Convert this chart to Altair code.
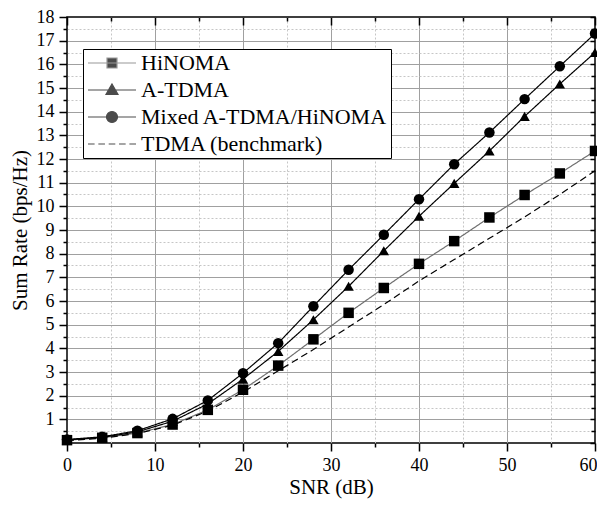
import altair as alt
import pandas as pd

# ---- data ----
snr = [0, 4, 8, 12, 16, 20, 24, 28, 32, 36, 40, 44, 48, 52, 56, 60]
hinoma = [0.12, 0.22, 0.42, 0.78, 1.40, 2.25, 3.27, 4.38, 5.50, 6.55, 7.57, 8.53, 9.53, 10.48, 11.39, 12.34]
atdma = [0.13, 0.24, 0.47, 0.92, 1.65, 2.70, 3.87, 5.21, 6.62, 8.12, 9.58, 10.97, 12.34, 13.80, 15.17, 16.50]
mixed = [0.15, 0.26, 0.52, 1.02, 1.80, 2.95, 4.22, 5.78, 7.32, 8.80, 10.30, 11.78, 13.12, 14.53, 15.92, 17.30]
tdma = [0.10, 0.20, 0.40, 0.75, 1.35, 2.15, 3.05, 3.95, 4.90, 5.85, 6.85, 7.75, 8.65, 9.55, 10.50, 11.50]
series = ["HiNOMA", "A-TDMA", "Mixed A-TDMA/HiNOMA", "TDMA (benchmark)"]

# ---- tick values ----
x_major = [0, 10, 20, 30, 40, 50, 60]
x_inner = [10, 20, 30, 40, 50]
x_minor = [5, 15, 25, 35, 45, 55]
y_labels = [1, 2, 3, 4, 5, 6, 7, 8, 9, 10, 11, 12, 13, 14, 15, 16, 17, 18]
y_major = [0, 1, 2, 3, 4, 5, 6, 7, 8, 9, 10, 11, 12, 13, 14, 15, 16, 17, 18]
y_inner = [1, 2, 3, 4, 5, 6, 7, 8, 9, 10, 11, 12, 13, 14, 15, 16, 17]
y_minor = [0.5, 1.5, 2.5, 3.5, 4.5, 5.5, 6.5, 7.5, 8.5, 9.5, 10.5, 11.5, 12.5,
           13.5, 14.5, 15.5, 16.5, 17.5]

rows = []
for name, vals in zip(series, [hinoma, atdma, mixed, tdma]):
    for s, v in zip(snr, vals):
        rows.append({"snr": s, "rate": v, "series": name})
df = pd.DataFrame(rows)

FONT = "Liberation Serif"
xs = alt.Scale(domain=[0, 60], nice=False, zero=False)
ys = alt.Scale(domain=[0, 18], nice=False, zero=False)


def guide(xaxis, yaxis):
    return alt.Chart(df).mark_point(opacity=0, size=1).encode(
        x=alt.X("snr:Q", scale=xs, axis=xaxis),
        y=alt.Y("rate:Q", scale=ys, axis=yaxis),
    )


def bare(**kw):
    base = dict(labels=False, domain=False, title=None, labelFlush=False)
    base.update(kw)
    return alt.Axis(**base)


minor_grid = guide(
    bare(orient="bottom", values=x_minor, grid=True, gridColor="#c6c6c6", gridDash=[2, 2], ticks=False),
    bare(orient="left", values=y_minor, grid=True, gridColor="#c6c6c6", gridDash=[2, 2], ticks=False),
)
major_grid = guide(
    bare(orient="bottom", values=x_inner, grid=True, gridColor="#a0a0a0", gridWidth=1, ticks=False),
    bare(orient="left", values=y_inner, grid=True, gridColor="#a0a0a0", gridWidth=1, ticks=False),
)
main_axes = guide(
    alt.Axis(orient="bottom", values=x_major, grid=False, domain=False, ticks=True, tickSize=8,
             tickColor="black", tickWidth=1.5, labelFont=FONT, labelFontSize=18, labelColor="black",
             labelPadding=5, labelFlush=False, labelOverlap=False,
             labelAlign={"condition": {"test": "datum.value == 60", "value": "right"}, "value": "center"},
             labelOffset={"condition": {"test": "datum.value == 60", "value": 2}, "value": 0},
             title="SNR (dB)", titleFont=FONT,
             titleFontSize=21, titleFontWeight="normal", titleColor="black", titlePadding=2),
    alt.Axis(orient="left", values=y_labels, grid=False, domain=False, ticks=True, tickSize=8,
             tickColor="black", tickWidth=1.5, labelFont=FONT, labelFontSize=18, labelColor="black",
             labelPadding=5, labelFlush=False, labelOverlap=False, title="Sum Rate (bps/Hz)", titleFont=FONT,
             titleFontSize=21, titleFontWeight="normal", titleColor="black", titlePadding=6),
)
minor_ticks = guide(
    bare(orient="bottom", values=x_minor, ticks=True, tickSize=4, tickColor="black", tickWidth=1.5, grid=False),
    bare(orient="left", values=y_minor, ticks=True, tickSize=4, tickColor="black", tickWidth=1.5, grid=False),
)
tr_major = guide(
    bare(orient="top", values=x_major, ticks=True, tickSize=8, tickColor="black", tickWidth=1.5, grid=False, offset=-8),
    bare(orient="right", values=y_major, ticks=True, tickSize=5, tickColor="black", tickWidth=1.5, grid=False, offset=-5),
)
tr_minor = guide(
    bare(orient="top", values=x_minor, ticks=True, tickSize=4, tickColor="black", tickWidth=1.5, grid=False, offset=-4),
    bare(orient="right", values=y_minor, ticks=True, tickSize=4, tickColor="black", tickWidth=1.5, grid=False, offset=-4),
)

X = alt.X("snr:Q", scale=xs, axis=None)
Y = alt.Y("rate:Q", scale=ys, axis=None)

lines = alt.Chart(df).mark_line(strokeWidth=1.2).encode(
    x=X, y=Y,
    color=alt.Color("series:N", scale=alt.Scale(domain=series, range=["#6f6f6f", "black", "black", "black"]), legend=None),
    strokeDash=alt.StrokeDash("series:N", scale=alt.Scale(domain=series, range=[[1, 0], [1, 0], [1, 0], [7, 4]]), legend=None),
)

points = alt.Chart(df).transform_filter(alt.datum.series != "TDMA (benchmark)").mark_point(
    filled=True, opacity=1, color="black", size=110
).encode(
    x=X, y=Y,
    shape=alt.Shape("series:N", scale=alt.Scale(domain=series[:3], range=["square", "triangle-up", "circle"]), legend=None),
)

legend_paths = [
    "M-0.9,0H3.9M1,-0.5H2V0.5H1Z",
    "M-0.9,0H3.9M1.5,-0.6L2.1,0.45H0.9Z",
    "M-0.9,0H3.9M0.95,0A0.55,0.55 0 1,0 2.05,0A0.55,0.55 0 1,0 0.95,0Z",
    "M-0.9,0H-0.24M0.135,0H0.795M1.17,0H1.83M2.205,0H2.865M3.24,0H3.9",
]
leg = alt.Legend(title=None, orient="none", legendX=16, legendY=32, direction="vertical",
                 strokeColor="black", fillColor="white", padding=3, labelFont=FONT, labelFontSize=22,
                 labelColor="black", labelOffset=33, symbolSize=400, symbolStrokeWidth=1.2,
                 symbolFillColor="black", rowPadding=5, labelLimit=500)
legend_layer = alt.Chart(df).transform_filter("false").mark_point(filled=False, size=400, fill="black").encode(
    x=X, y=Y,
    shape=alt.Shape("series:N", scale=alt.Scale(domain=series, range=legend_paths), legend=leg),
    color=alt.Color("series:N", scale=alt.Scale(domain=series, range=["#6f6f6f", "black", "black", "black"]), legend=leg),
)

chart = alt.layer(
    minor_grid, major_grid, main_axes, minor_ticks, tr_major, tr_minor, lines, points, legend_layer
).resolve_axis(x="independent", y="independent").resolve_scale(shape="independent", color="independent").properties(
    width=528, height=426,
    autosize=alt.AutoSizeParams(type="none"),
    padding={"left": 59, "top": 9, "right": 2, "bottom": 57},
    background="white",
).configure_view(stroke="black", strokeWidth=1.5)

chart.save("out.html", embed_options={"renderer": "svg", "actions": False})
